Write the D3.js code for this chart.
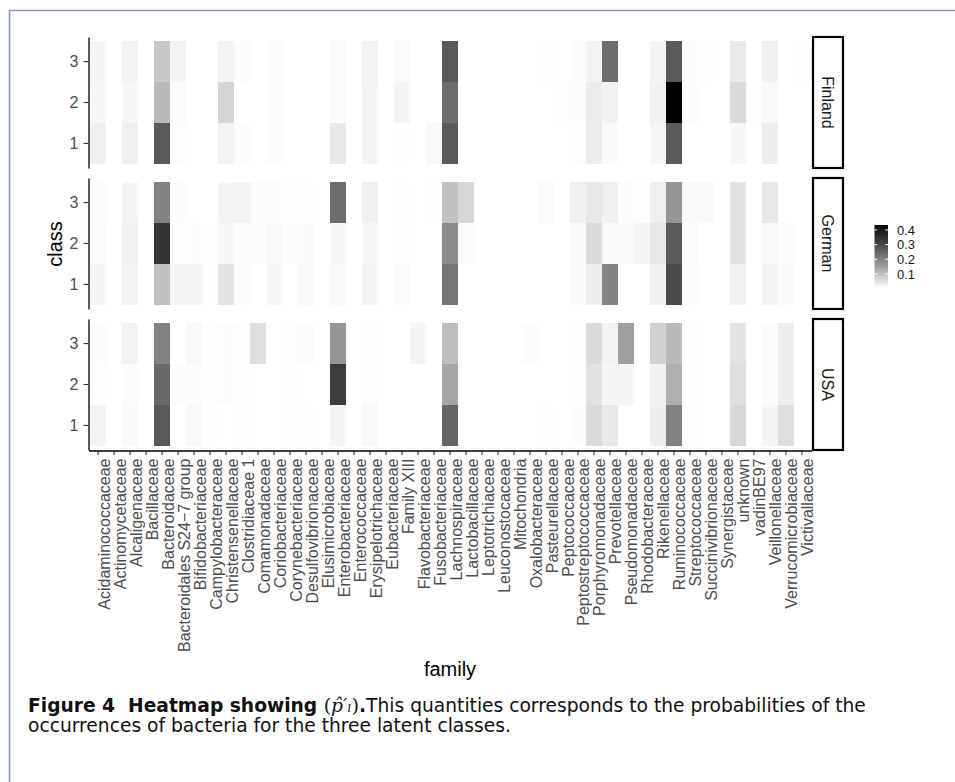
<!DOCTYPE html>
<html>
<head>
<meta charset="utf-8">
<script src="https://cdn.jsdelivr.net/npm/d3@7"></script>
<style>
  body { margin: 0; background: #fff; }
  svg { display: block; }
</style>
</head>
<body>
<div id="my_dataviz"></div>
<script>
const families = ["Acidaminococcaceae", "Actinomycetaceae", "Alcaligenaceae", "Bacillaceae", "Bacteroidaceae",
  "Bacteroidales S24\u22127 group", "Bifidobacteriaceae", "Campylobacteraceae", "Christensenellaceae", "Clostridiaceae 1",
  "Comamonadaceae", "Coriobacteriaceae", "Corynebacteriaceae", "Desulfovibrionaceae", "Elusimicrobiaceae",
  "Enterobacteriaceae", "Enterococcaceae", "Erysipelotrichaceae", "Eubacteriaceae", "Family XIII",
  "Flavobacteriaceae", "Fusobacteriaceae", "Lachnospiraceae", "Lactobacillaceae", "Leptotrichiaceae",
  "Leuconostocaceae", "Mitochondria", "Oxalobacteraceae", "Pasteurellaceae", "Peptococcaceae",
  "Peptostreptococcaceae", "Porphyromonadaceae", "Prevotellaceae", "Pseudomonadaceae", "Rhodobacteraceae",
  "Rikenellaceae", "Ruminococcaceae", "Streptococcaceae", "Succinivibrionaceae", "Synergistaceae",
  "unknown", "vadinBE97", "Veillonellaceae", "Verrucomicrobiaceae", "Victivallaceae"];
const classes = ["1", "2", "3"];
const countries = ["Finland", "German", "USA"];

// probabilities per family, one array per country and class
const finland1 = [.026,.004,.028,.004,.271,.007,.004,.004,.022,.009,.004,.009,.004,.004,.004,.039,.004,.019,.004,.005,.004,.014,.270,.004,.004,.004,.004,.004,.004,.004,.007,.033,.012,.004,.004,.016,.270,.004,.004,.004,.016,.004,.030,.004,.004];
const finland2 = [.016,.004,.016,.004,.109,.010,.004,.004,.068,.004,.004,.009,.004,.004,.004,.010,.004,.019,.004,.019,.004,.004,.236,.004,.004,.004,.004,.004,.004,.007,.009,.033,.023,.004,.004,.023,.434,.009,.004,.004,.058,.007,.014,.004,.004];
const finland3 = [.019,.004,.022,.004,.088,.022,.004,.004,.022,.009,.004,.009,.004,.004,.004,.010,.004,.022,.004,.010,.004,.004,.270,.004,.004,.004,.004,.004,.007,.004,.009,.022,.236,.004,.004,.019,.270,.009,.007,.004,.036,.004,.026,.004,.007];
const german1 = [.019,.004,.022,.004,.098,.019,.019,.006,.044,.009,.004,.016,.004,.014,.004,.014,.004,.019,.004,.010,.004,.004,.221,.004,.004,.004,.004,.004,.004,.004,.012,.030,.198,.004,.004,.026,.299,.009,.004,.004,.023,.004,.019,.012,.004];
const german2 = [.010,.004,.023,.004,.338,.005,.009,.005,.016,.009,.009,.014,.009,.012,.004,.016,.004,.016,.004,.007,.004,.004,.186,.009,.004,.004,.004,.004,.004,.004,.012,.058,.014,.012,.019,.039,.271,.010,.004,.004,.047,.004,.014,.009,.004];
const german3 = [.009,.004,.019,.004,.198,.009,.004,.004,.019,.022,.009,.009,.007,.007,.004,.236,.004,.026,.004,.007,.004,.007,.098,.064,.004,.004,.004,.004,.010,.004,.026,.039,.026,.010,.007,.028,.168,.014,.014,.004,.047,.004,.039,.004,.004];
const usa1 = [.022,.004,.012,.004,.271,.004,.014,.005,.004,.007,.004,.004,.007,.007,.004,.019,.004,.014,.004,.004,.004,.004,.250,.004,.004,.004,.004,.004,.007,.004,.009,.058,.039,.004,.004,.030,.201,.007,.004,.004,.064,.004,.019,.052,.004];
const usa2 = [.007,.004,.009,.004,.243,.009,.009,.005,.009,.007,.004,.004,.007,.004,.004,.323,.004,.007,.004,.004,.004,.004,.143,.004,.004,.004,.004,.004,.004,.004,.007,.047,.019,.019,.004,.026,.127,.007,.004,.004,.052,.004,.010,.030,.004];
const usa3 = [.009,.004,.022,.004,.201,.004,.014,.005,.009,.007,.052,.004,.007,.010,.004,.168,.004,.007,.004,.004,.019,.004,.104,.004,.004,.004,.004,.009,.004,.004,.007,.058,.022,.153,.004,.074,.109,.007,.004,.004,.044,.004,.010,.030,.004];
const legendTicks = [0.1, 0.2, 0.3, 0.4];

// long table built from the arrays above
const byCountry = { Finland: [finland1, finland2, finland3], German: [german1, german2, german3], USA: [usa1, usa2, usa3] };
const cells = [];
countries.forEach(country => {
  byCountry[country].forEach((arr, ci) => {
    arr.forEach((v, fi) => cells.push({ country: country, cls: classes[ci], family: families[fi], value: v }));
  });
});

const W = 955, H = 782;
const svg = d3.select("#my_dataviz").append("svg").attr("width", W).attr("height", H);

// frame round the figure
svg.append("path").attr("d", `M9.5,${H} V10.5 H${W}`)
  .attr("fill", "none").attr("stroke", "#7f9bc0").attr("stroke-width", 1.6);

const tickFont = 16, titleFont = 20, fontFam = "Liberation Sans";

// scales
const x = d3.scaleBand().domain(families).range([88.5, 811.5]).paddingInner(0).paddingOuter(0.1);
const panel = d3.scaleBand().domain(countries).range([37, 450]).paddingInner(10 / 141);
const color = d3.scaleLinear().domain(d3.extent(cells, d => d.value)).range(["white", "black"]).interpolate(d3.interpolateLab);

countries.forEach(country => {
  const top = panel(country), bottom = top + panel.bandwidth();
  const y = d3.scaleBand().domain(["3", "2", "1"]).range([top, bottom]).paddingOuter(0.1);
  const g = svg.append("g");

  g.selectAll("rect")
    .data(cells.filter(d => d.country === country))
    .join("rect")
    .attr("x", d => x(d.family))
    .attr("y", d => y(d.cls))
    .attr("width", x.bandwidth() + 0.3)
    .attr("height", y.bandwidth() + 0.3)
    .attr("fill", d => color(d.value))
    .attr("shape-rendering", "crispEdges");

  // y axis
  const ya = g.append("g").attr("transform", "translate(88.5,0)")
    .call(d3.axisLeft(y).tickSize(5).tickSizeOuter(0).tickPadding(5));
  ya.select(".domain").attr("stroke", "black").attr("stroke-width", 1.3);
  ya.selectAll(".tick line").attr("stroke", "#333").attr("stroke-width", 1.1);
  ya.selectAll("text").attr("font-size", tickFont).attr("font-family", fontFam).attr("fill", "#4d4d4d");

  // strip
  g.append("rect").attr("x", 813).attr("y", top).attr("width", 30).attr("height", panel.bandwidth())
    .attr("fill", "white").attr("stroke", "black").attr("stroke-width", 2.2);
  g.append("text")
    .attr("transform", `translate(828,${(top + bottom) / 2}) rotate(90)`)
    .attr("text-anchor", "middle").attr("dy", "0.35em")
    .attr("font-size", tickFont).attr("font-family", fontFam).attr("fill", "#1a1a1a")
    .text(country);
});

// x axis under the last panel
const xa = svg.append("g").attr("transform", "translate(0,450.5)")
  .call(d3.axisBottom(x).tickSize(4.5).tickSizeOuter(0).tickPadding(3));
xa.select(".domain").attr("stroke", "black").attr("stroke-width", 1.3);
xa.selectAll(".tick line").attr("stroke", "#333").attr("stroke-width", 1.1);
xa.selectAll("text")
  .attr("font-size", tickFont).attr("font-family", fontFam).attr("fill", "#4d4d4d")
  .attr("text-anchor", "end")
  .attr("transform", "translate(0,8) rotate(-90)")
  .attr("x", 0).attr("y", 0).attr("dy", "0.72em");

// axis titles
svg.append("text").attr("x", 450).attr("y", 676).attr("text-anchor", "middle")
  .attr("font-size", titleFont).attr("font-family", fontFam).text("family");
svg.append("text").attr("transform", "translate(62,244) rotate(-90)").attr("text-anchor", "middle")
  .attr("font-size", titleFont).attr("font-family", fontFam).text("class");

// colour bar
const lg = svg.append("g");
const ly = d3.scaleLinear().domain(color.domain()).range([288, 225]);
const grad = svg.append("defs").append("linearGradient").attr("id", "grad")
  .attr("x1", 0).attr("y1", 1).attr("x2", 0).attr("y2", 0);
grad.selectAll("stop").data(d3.range(0, 1.0001, 0.05)).join("stop")
  .attr("offset", d => d)
  .attr("stop-color", d => color(color.domain()[0] + d * (color.domain()[1] - color.domain()[0])));
lg.append("rect").attr("x", 874.5).attr("y", 225).attr("width", 13.5).attr("height", 63).attr("fill", "url(#grad)");
legendTicks.forEach(t => {
  lg.append("line").attr("x1", 874.5).attr("x2", 877.2).attr("y1", ly(t)).attr("y2", ly(t)).attr("stroke", "white").attr("stroke-width", 1);
  lg.append("line").attr("x1", 885.3).attr("x2", 888).attr("y1", ly(t)).attr("y2", ly(t)).attr("stroke", "white").attr("stroke-width", 1);
  lg.append("text").attr("x", 897).attr("y", ly(t)).attr("dy", "0.36em")
    .attr("font-size", 13).attr("font-family", fontFam).attr("fill", "#1a1a1a").text(t);
});

// caption
const capFam = "DejaVu Sans", mathFam = "DejaVu Serif";
let capSize = 15;
const cap1 = svg.append("text").attr("x", 28).attr("y", 712).attr("font-family", capFam).attr("font-size", capSize).attr("fill", "#111").style("white-space", "pre");
cap1.append("tspan").attr("font-weight", "bold").text("Figure 4  Heatmap showing ");
cap1.append("tspan").attr("font-family", mathFam).text("(");
cap1.append("tspan").attr("font-style", "italic").attr("font-family", mathFam).text("p\u0302\u2032\u2097");
cap1.append("tspan").attr("font-family", mathFam).text(")");
cap1.append("tspan").attr("font-weight", "bold").text(".");
cap1.append("tspan").text("This quantities corresponds to the probabilities of the");
const cap2 = svg.append("text").attr("x", 28).attr("y", 732).attr("font-family", capFam).attr("font-size", capSize).attr("fill", "#111")
  .text("occurrences of bacteria for the three latent classes.");

// fit the first caption line to its width in the figure
const w1 = cap1.node().getComputedTextLength();
capSize = capSize * 838 / w1;
cap1.attr("font-size", capSize);
cap2.attr("font-size", capSize);
</script>
</body>
</html>
